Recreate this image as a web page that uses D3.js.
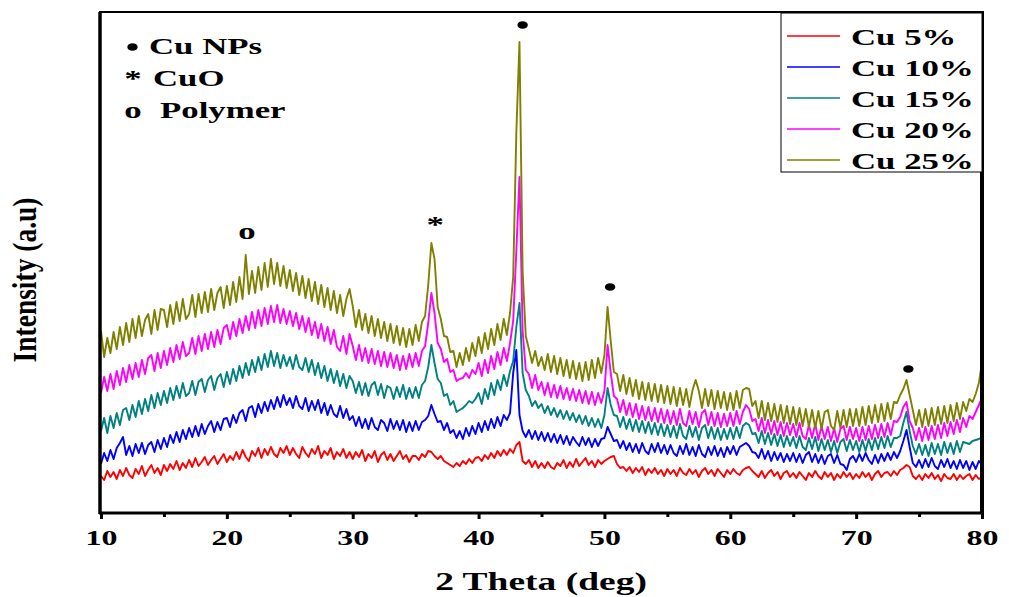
<!DOCTYPE html>
<html>
<head>
<meta charset="utf-8">
<script src="https://cdn.jsdelivr.net/npm/d3@7"></script>
<style>
  body { margin: 0; background: #fff; }
  text { font-family: "Liberation Serif", "Times New Roman", serif; font-weight: bold; fill: #000; }
</style>
</head>
<body>
<svg id="chart" width="1009" height="597"></svg>
<script>
// 2 theta grid, 10..80 deg in 0.25 deg steps (281 points)
const twoTheta = d3.range(0, 281).map(i => 10 + i * 0.25);

// intensities (a.u.), one row = 5 deg
const cu5 = [
  37, 33, 42, 36, 41, 34, 43, 37, 45, 38, 35, 44, 39, 47, 37, 43, 48, 40, 45, 38,
  48, 42, 49, 44, 52, 43, 50, 45, 53, 46, 55, 47, 51, 56, 48, 53, 57, 49, 54, 59,
  51, 57, 53, 61, 54, 63, 56, 52, 62, 57, 65, 55, 64, 58, 66, 59, 56, 65, 60, 67,
  58, 65, 59, 55, 66, 60, 56, 64, 59, 67, 55, 62, 58, 65, 54, 61, 57, 64, 55, 61,
  54, 61, 56, 63, 52, 59, 55, 62, 51, 58, 61, 53, 59, 52, 57, 62, 54, 58, 51, 57,
  57, 53, 59, 56, 62, 61, 57, 54, 57, 52, 50, 48, 46, 50, 47, 52, 49, 54, 50, 55,
  56, 52, 58, 54, 60, 55, 62, 57, 63, 58, 64, 60, 68, 71, 52, 49, 53, 46, 52, 45,
  50, 45, 51, 46, 44, 50, 47, 53, 45, 51, 46, 54, 47, 51, 55, 48, 52, 46, 53, 49,
  52, 54, 56, 57, 49, 45, 46, 42, 46, 40, 45, 41, 46, 38, 44, 40, 45, 39, 43, 37,
  44, 39, 43, 37, 45, 40, 38, 44, 39, 43, 36, 42, 45, 39, 43, 37, 44, 40, 36, 43,
  39, 44, 40, 38, 43, 45, 46, 42, 39, 36, 42, 35, 40, 43, 37, 41, 34, 40, 42, 36,
  40, 35, 41, 37, 33, 40, 36, 42, 37, 34, 41, 36, 40, 33, 39, 35, 41, 36, 40, 34,
  39, 35, 41, 36, 40, 33, 39, 42, 36, 40, 41, 37, 42, 38, 43, 45, 48, 46, 37, 34,
  38, 33, 39, 35, 40, 34, 38, 32, 39, 35, 34, 39, 33, 38, 34, 37, 39, 33, 38, 34,
  36
];
const cu10 = [
  49, 60, 52, 63, 54, 65, 70, 76, 58, 67, 57, 69, 60, 70, 59, 68, 71, 61, 73, 64,
  75, 66, 78, 70, 81, 71, 83, 74, 85, 76, 87, 77, 89, 79, 87, 92, 81, 91, 83, 94,
  95, 86, 98, 90, 100, 103, 92, 105, 107, 96, 109, 100, 111, 102, 113, 104, 116, 106, 118, 108,
  115, 105, 117, 107, 104, 115, 102, 112, 103, 113, 100, 110, 98, 108, 99, 96, 107, 95, 104, 93,
  97, 87, 96, 85, 94, 84, 95, 86, 83, 93, 90, 82, 94, 84, 92, 83, 93, 81, 91, 82,
  92, 83, 91, 93, 97, 108, 99, 91, 92, 83, 90, 80, 83, 75, 82, 74, 85, 77, 87, 79,
  90, 81, 92, 83, 94, 85, 96, 87, 98, 93, 100, 140, 163, 98, 82, 76, 83, 74, 82, 73,
  81, 72, 80, 71, 79, 70, 78, 69, 77, 68, 76, 71, 67, 76, 68, 75, 66, 74, 67, 74,
  75, 86, 79, 72, 73, 65, 72, 63, 70, 61, 69, 60, 70, 62, 59, 69, 61, 70, 60, 68,
  59, 68, 60, 57, 67, 59, 69, 58, 66, 57, 68, 59, 56, 66, 58, 67, 57, 65, 56, 66,
  59, 67, 58, 66, 68, 70, 67, 61, 60, 55, 64, 54, 62, 52, 61, 53, 60, 51, 59, 52,
  60, 51, 59, 50, 58, 61, 51, 59, 50, 58, 49, 57, 59, 50, 58, 49, 48, 43, 54, 57,
  51, 59, 52, 60, 53, 49, 58, 50, 59, 52, 60, 53, 61, 55, 62, 72, 83, 66, 50, 46,
  53, 45, 54, 46, 55, 47, 44, 53, 46, 54, 45, 52, 44, 53, 45, 52, 43, 51, 44, 52,
  48
];
const cu15 = [
  82, 95, 80, 97, 85, 100, 88, 103, 105, 93, 108, 96, 112, 99, 114, 102, 118, 105, 120, 108,
  122, 110, 125, 113, 127, 115, 130, 117, 120, 132, 118, 131, 134, 121, 133, 137, 123, 135, 139, 126,
  141, 129, 144, 132, 147, 135, 150, 138, 153, 141, 156, 143, 159, 146, 162, 147, 160, 145, 158, 147,
  156, 144, 158, 146, 143, 155, 141, 153, 138, 150, 135, 147, 132, 144, 130, 142, 127, 139, 125, 137,
  132, 120, 131, 118, 130, 117, 128, 131, 118, 129, 115, 127, 125, 114, 126, 116, 128, 114, 125, 115,
  126, 115, 128, 132, 146, 168, 150, 134, 130, 117, 119, 108, 112, 101, 103, 105, 108, 112, 110, 114,
  120, 109, 124, 114, 130, 118, 133, 123, 138, 127, 142, 152, 186, 210, 140, 123, 117, 107, 112, 105,
  109, 100, 107, 98, 105, 96, 103, 94, 102, 93, 100, 91, 98, 89, 97, 87, 95, 86, 94, 85,
  98, 125, 108, 98, 97, 86, 96, 84, 94, 82, 93, 81, 92, 80, 91, 79, 90, 78, 89, 77,
  88, 76, 87, 75, 89, 77, 74, 87, 76, 86, 73, 85, 88, 75, 86, 74, 85, 73, 84, 74,
  85, 74, 86, 75, 87, 90, 88, 79, 80, 70, 82, 69, 80, 68, 79, 67, 78, 66, 77, 67,
  76, 65, 77, 66, 63, 75, 64, 76, 62, 74, 63, 73, 61, 72, 60, 71, 74, 62, 73, 63,
  72, 61, 73, 62, 74, 63, 75, 64, 76, 65, 77, 66, 75, 75, 77, 90, 101, 82, 67, 59,
  69, 58, 68, 57, 70, 59, 69, 58, 71, 60, 70, 59, 72, 61, 71, 70, 69, 72, 73, 74,
  76
];
const cu20 = [
  120, 136, 122, 139, 124, 142, 128, 145, 131, 148, 134, 150, 136, 153, 139, 155, 158, 142, 160, 145,
  162, 148, 165, 151, 168, 154, 171, 157, 160, 175, 159, 177, 162, 179, 164, 181, 166, 183, 169, 185,
  188, 174, 191, 177, 194, 180, 197, 183, 201, 185, 203, 187, 205, 189, 207, 191, 208, 190, 204, 189,
  202, 187, 200, 184, 197, 181, 195, 178, 191, 175, 189, 172, 186, 169, 183, 166, 162, 177, 159, 179,
  167, 153, 168, 152, 165, 150, 164, 149, 162, 147, 161, 146, 160, 145, 158, 143, 157, 144, 159, 146,
  160, 147, 162, 167, 190, 220, 200, 170, 164, 151, 154, 141, 143, 132, 134, 135, 140, 135, 143, 139,
  150, 137, 153, 140, 157, 144, 161, 148, 165, 152, 170, 192, 262, 336, 182, 143, 139, 125, 138, 123,
  131, 118, 130, 116, 128, 115, 127, 114, 125, 113, 124, 112, 123, 110, 122, 109, 121, 108, 120, 110,
  122, 168, 140, 117, 114, 101, 113, 98, 110, 96, 109, 94, 107, 93, 106, 92, 105, 91, 104, 90,
  103, 89, 102, 88, 104, 90, 87, 102, 89, 101, 86, 100, 103, 88, 101, 87, 100, 86, 99, 87,
  100, 87, 102, 89, 101, 108, 104, 92, 94, 82, 95, 80, 93, 79, 92, 78, 91, 77, 90, 78,
  89, 76, 90, 77, 74, 88, 75, 89, 73, 87, 74, 86, 72, 85, 71, 84, 87, 73, 86, 74,
  85, 72, 86, 73, 87, 74, 88, 75, 89, 76, 90, 78, 92, 91, 96, 106, 111, 92, 85, 73,
  85, 72, 86, 73, 87, 74, 88, 75, 90, 77, 91, 79, 93, 81, 95, 86, 97, 94, 101, 108,
  115
];
const cu25 = [
  182, 156, 175, 160, 181, 164, 186, 168, 190, 171, 194, 175, 197, 177, 193, 199, 179, 203, 183, 204,
  203, 186, 208, 189, 211, 192, 214, 194, 199, 218, 196, 219, 200, 221, 201, 224, 203, 220, 226, 205,
  227, 208, 231, 211, 236, 214, 258, 219, 242, 220, 246, 223, 250, 226, 254, 229, 250, 227, 247, 225,
  243, 222, 240, 218, 237, 215, 234, 212, 231, 209, 228, 206, 225, 203, 222, 200, 218, 197, 214, 224,
  207, 186, 203, 183, 199, 180, 197, 177, 194, 175, 191, 172, 189, 170, 187, 168, 185, 166, 184, 168,
  188, 172, 191, 197, 228, 270, 254, 206, 194, 177, 176, 161, 162, 146, 160, 148, 165, 152, 170, 157,
  176, 160, 180, 164, 184, 168, 189, 173, 194, 178, 200, 236, 380, 471, 242, 177, 164, 150, 162, 147,
  156, 143, 159, 141, 157, 139, 155, 137, 153, 135, 152, 134, 150, 132, 151, 133, 153, 135, 155, 140,
  158, 206, 172, 141, 139, 122, 138, 119, 135, 117, 133, 114, 131, 113, 130, 112, 129, 111, 128, 110,
  127, 109, 126, 107, 125, 108, 124, 106, 123, 133, 122, 105, 124, 107, 123, 104, 122, 105, 121, 103,
  120, 103, 122, 105, 123, 125, 124, 107, 112, 95, 112, 93, 110, 92, 109, 91, 108, 90, 107, 89,
  106, 88, 105, 87, 104, 86, 103, 85, 102, 84, 101, 103, 87, 83, 102, 85, 103, 86, 104, 87,
  104, 87, 106, 88, 107, 90, 108, 91, 109, 92, 110, 94, 111, 110, 118, 124, 133, 118, 103, 88,
  103, 86, 104, 87, 105, 88, 106, 89, 107, 90, 108, 92, 110, 94, 111, 102, 114, 111, 119, 130,
  150
];

const seriesNames = ['Cu 5%', 'Cu 10%', 'Cu 15%', 'Cu 20%', 'Cu 25%'];
const seriesValues = [cu5, cu10, cu15, cu20, cu25];
const seriesColors = ['#ff0000', '#0000ff', '#008080', '#ff00ff', '#808000'];

const xMajorTicks = [10, 20, 30, 40, 50, 60, 70, 80];
const xMinorTicks = [15, 25, 35, 45, 55, 65, 75];

// phase key (top left) and peak markers
const phaseSymbols = ['dot', '*', 'o'];
const phaseNames = ['Cu NPs', 'CuO', 'Polymer'];
const peakMarks = [
  { theta: 21.6, level: 274, sym: 'o' },
  { theta: 36.55, level: 281, sym: '*' },
  { theta: 43.5, level: 488, sym: 'dot' },
  { theta: 50.45, level: 226, sym: 'dot' },
  { theta: 74.15, level: 144, sym: 'dot' }
];

const svg = d3.select('#chart');
const W = +svg.attr('width');
const H = +svg.attr('height');
const SX = 1.45; // text in the original is stretched sideways

const plot = { left: 101, right: 982, top: 13, bottom: 513 };

svg.append('rect').attr('width', W).attr('height', H).attr('fill', '#fff');

const x = d3.scaleLinear().domain([10, 80]).range([plot.left, plot.right]);
const y = d3.scaleLinear().domain([0, 500]).range([plot.bottom, plot.top]);

// stretched bold serif text
const label = (g, str, px, py, size, sx, anchor) =>
  g.append('text')
    .attr('transform', `translate(${px},${py}) scale(${sx},1)`)
    .attr('text-anchor', anchor || 'start')
    .style('font-size', size + 'px')
    .style('white-space', 'pre')
    .text(str);

const dot = (g, cx, cy) =>
  g.append('ellipse')
    .attr('cx', cx).attr('cy', cy)
    .attr('rx', 5.2).attr('ry', 3.8).attr('fill', '#000');

// curves
const line = d3.line()
  .x((d, i) => x(twoTheta[i]))
  .y(d => y(d));

svg.append('g')
  .selectAll('path')
  .data(seriesValues)
  .join('path')
  .attr('d', line)
  .attr('fill', 'none')
  .attr('stroke', (d, i) => seriesColors[i])
  .attr('stroke-width', 1.9)
  .attr('stroke-linejoin', 'round');

// x axis, major and minor ticks
const xAxisG = svg.append('g').attr('transform', `translate(0,${plot.bottom})`);
xAxisG.call(d3.axisBottom(x).tickValues(xMajorTicks).tickSize(6).tickSizeOuter(0));
xAxisG.select('.domain').remove();
xAxisG.selectAll('.tick line').attr('stroke-width', 3);
xAxisG.selectAll('.tick text')
  .attr('y', 0).attr('dy', 0)
  .attr('transform', `translate(0,32) scale(${SX},1)`)
  .style('font-size', '22px')
  .style('font-family', '"Liberation Serif", "Times New Roman", serif')
  .style('font-weight', 'bold');

const xMinorG = svg.append('g').attr('transform', `translate(0,${plot.bottom})`);
xMinorG.call(d3.axisBottom(x).tickValues(xMinorTicks).tickSize(4).tickFormat(''));
xMinorG.select('.domain').remove();
xMinorG.selectAll('.tick line').attr('stroke-width', 3);

// frame
const frame = svg.append('g').attr('stroke', '#000');
frame.append('line').attr('x1', plot.left - 2).attr('x2', plot.right + 2)
  .attr('y1', plot.bottom).attr('y2', plot.bottom).attr('stroke-width', 3);
frame.append('line').attr('x1', plot.left - 1).attr('x2', plot.left - 1)
  .attr('y1', plot.top - 1).attr('y2', plot.bottom + 1).attr('stroke-width', 3.5);
frame.append('line').attr('x1', plot.left - 2).attr('x2', plot.right)
  .attr('y1', plot.top - 1).attr('y2', plot.top - 1).attr('stroke-width', 2);
frame.append('line').attr('x1', plot.right).attr('x2', plot.right)
  .attr('y1', plot.top - 2).attr('y2', plot.bottom + 1).attr('stroke-width', 4);

// axis titles
label(svg, '2 Theta (deg)', 541, 590, 25, 1.5, 'middle');
svg.append('text')
  .attr('transform', 'translate(36,280) scale(1.26,1) rotate(-90)')
  .attr('text-anchor', 'middle')
  .style('font-size', '27.5px')
  .text('Intensity (a.u)');

// phase key
const phaseG = svg.append('g');
const phaseNameX = [149, 153, 160];
phaseNames.forEach((s, i) => {
  const base = 54 + i * 32;
  if (phaseSymbols[i] === 'dot') dot(phaseG, 132.5, base - 7);
  else label(phaseG, phaseSymbols[i], 133, base, 24, SX, 'middle');
  label(phaseG, s, phaseNameX[i], base, 24, SX);
});

// peak markers
const markG = svg.append('g');
peakMarks.forEach(m => {
  if (m.sym === 'dot') dot(markG, x(m.theta), y(m.level));
  else label(markG, m.sym, x(m.theta), y(m.level), 24, SX, 'middle');
});

// legend
const legend = svg.append('g').attr('transform', 'translate(781,13)');
legend.append('rect')
  .attr('width', 201).attr('height', 159)
  .attr('fill', '#fff').attr('stroke', '#000').attr('stroke-width', 1);
const rows = legend.selectAll('g.row')
  .data(seriesNames)
  .join('g')
  .attr('class', 'row')
  .attr('transform', (d, i) => `translate(0,${23 + i * 31})`);
rows.append('line')
  .attr('x1', 6).attr('x2', 59)
  .attr('stroke', (d, i) => seriesColors[i])
  .attr('stroke-width', 1.5);
rows.each(function (d) { label(d3.select(this), d, 70, 9, 24, SX); });
</script>
</body>
</html>
